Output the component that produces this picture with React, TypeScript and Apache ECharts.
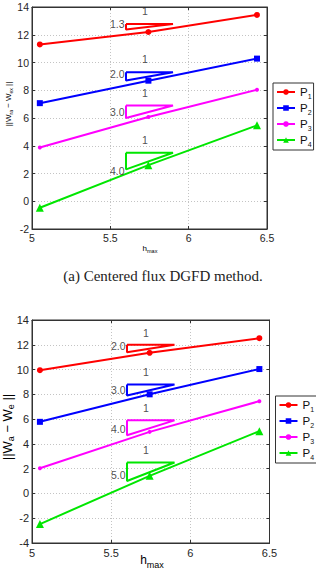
import React, { useEffect, useRef } from "react";
import * as echarts from "echarts";

// h_max sample points (shared by both panels)
const hMax = [5.05, 5.743, 6.436];

// Panel (a): centered flux DGFD errors
const centeredP1 = [11.3, 12.2, 13.43];
const centeredP2 = [7.07, 8.69, 10.28];
const centeredP3 = [3.88, 6.07, 8.04];
const centeredP4 = [-0.47, 2.6, 5.47];
const centeredSlopes = [1.3, 2.0, 3.0, 4.0];
const centeredTriTop = [12.77, 9.3, 6.9, 3.5];
const centeredSlopeLabelY = [12.75, 9.2, 6.45, 2.15];

// Panel (b): second method errors
const secondP1 = [9.95, 11.35, 12.53];
const secondP2 = [5.78, 8.0, 10.04];
const secondP3 = [2.03, 4.97, 7.45];
const secondP4 = [-2.47, 1.42, 5.03];
const secondSlopes = [2.0, 3.0, 4.0, 5.0];
const secondTriTop = [12.0, 8.8, 5.9, 2.5];
const secondSlopeLabelY = [11.9, 8.32, 5.2, 1.45];

// slope triangle horizontal extent
const triX = [5.6, 5.9];
const oneLabelX = 5.72;

const seriesNames = ["P1", "P2", "P3", "P4"];
const colors = ["#ff0000", "#0000ff", "#ff00ff", "#00e600"];
const symbols = ["circle", "rect", "circle", "triangle"];
const symbolSizes = [6, 6, 4, 8];

const xTicks = { min: 5, max: 6.5, interval: 0.5 };
const yRanges = [
  { min: -2, max: 14, interval: 2 },
  { min: -4, max: 14, interval: 2 },
];

const SANS = "Liberation Sans, Arial, Helvetica, sans-serif";

export default function App() {
  const ref = useRef<HTMLDivElement>(null);

  useEffect(() => {
    if (!ref.current) return;
    const chart = echarts.init(ref.current, undefined, { renderer: "svg" });

    const grids = [
      { left: 32, top: 7, width: 235, height: 222 },
      { left: 32, top: 320, width: 237.5, height: 223 },
    ];
    const labelSizes = [10.5, 11];

    const panels = [
      {
        values: [centeredP1, centeredP2, centeredP3, centeredP4],
        slopes: centeredSlopes,
        triTop: centeredTriTop,
        slopeY: centeredSlopeLabelY,
        oneOffset: 13,
      },
      {
        values: [secondP1, secondP2, secondP3, secondP4],
        slopes: secondSlopes,
        triTop: secondTriTop,
        slopeY: secondSlopeLabelY,
        oneOffset: 12,
      },
    ];

    const xAxis: any[] = [];
    const yAxis: any[] = [];
    grids.forEach((_, g) => {
      const fs = labelSizes[g];
      const tick = { show: true, inside: true, length: 3, lineStyle: { color: "#333" } };
      const line = { show: true, onZero: false, lineStyle: { color: "#333", width: 1 } };
      const dotted = { show: true, lineStyle: { color: "#c4c4c4", type: [1, 2] } };
      xAxis.push({
        type: "value",
        gridIndex: g,
        ...xTicks,
        axisLine: line,
        axisTick: tick,
        axisLabel: {
          color: "#262626",
          fontSize: fs,
          fontFamily: SANS,
          margin: g === 0 ? 3 : 4,
          showMinLabel: true,
          showMaxLabel: true,
          hideOverlap: false,
          formatter: (v: number) => String(v),
        },
        splitLine: dotted,
      });
      xAxis.push({
        type: "value",
        gridIndex: g,
        position: "top",
        ...xTicks,
        axisLine: line,
        axisTick: tick,
        axisLabel: { show: false },
        splitLine: { show: false },
      });
      yAxis.push({
        type: "value",
        gridIndex: g,
        ...yRanges[g],
        axisLine: line,
        axisTick: tick,
        axisLabel: {
          color: "#262626",
          fontSize: fs,
          fontFamily: SANS,
          margin: 3,
          showMinLabel: true,
          showMaxLabel: true,
          hideOverlap: false,
        },
        splitLine: dotted,
      });
      yAxis.push({
        type: "value",
        gridIndex: g,
        position: "right",
        ...yRanges[g],
        axisLine: line,
        axisTick: tick,
        axisLabel: { show: false },
        splitLine: { show: false },
      });
    });

    const series: any[] = [];
    panels.forEach((p, g) => {
      const axes = { xAxisIndex: 2 * g, yAxisIndex: 2 * g };
      p.values.forEach((vals, i) => {
        // slope triangle: right angle at top-left, drop = slope * run
        const top = p.triTop[i];
        const bottom = top - p.slopes[i] * (triX[1] - triX[0]);
        series.push({
          type: "line",
          name: `tri-${g}-${i}`,
          ...axes,
          data: [
            [triX[0], top],
            [triX[1], top],
            [triX[0], bottom],
            [triX[0], top],
          ],
          symbol: "none",
          lineStyle: { color: colors[i], width: 2 },
          z: 2,
          silent: true,
        });
        series.push({
          type: "line",
          name: seriesNames[i],
          ...axes,
          data: hMax.map((x, k) => [x, vals[k]]),
          symbol: symbols[i],
          symbolSize: symbolSizes[i],
          itemStyle: { color: colors[i] },
          lineStyle: { color: colors[i], width: 2 },
          z: 3,
        });
      });
      // "1" run labels and slope labels
      series.push({
        type: "scatter",
        name: `run-${g}`,
        ...axes,
        symbolSize: 1,
        itemStyle: { color: "transparent" },
        data: p.triTop.map((t) => ({ value: [oneLabelX, t], name: "1" })),
        label: {
          show: true,
          position: "inside",
          offset: [0, -p.oneOffset],
          formatter: "{b}",
          color: "#222",
          fontSize: 10.5,
          fontFamily: SANS,
        },
        z: 4,
        silent: true,
      });
      series.push({
        type: "scatter",
        name: `slope-${g}`,
        ...axes,
        symbolSize: 1,
        itemStyle: { color: "transparent" },
        data: p.slopeY.map((y, i) => ({ value: [triX[0], y], name: p.slopes[i].toFixed(1) })),
        label: {
          show: true,
          position: "left",
          distance: 1,
          formatter: "{b}",
          color: "#222",
          fontSize: 10.5,
          fontFamily: SANS,
        },
        z: 4,
        silent: true,
      });
    });

    const legendBase = (left: number, top: number, padRight: number) => ({
      orient: "vertical",
      left,
      top,
      data: seriesNames,
      backgroundColor: "#fff",
      borderColor: "#333",
      borderWidth: 1,
      borderRadius: 0,
      padding: [1, padRight, 2, 3],
      itemGap: 0,
      itemWidth: 18,
      itemHeight: 7,
      selectedMode: false,
      formatter: (name: string) => `{p|P}{s|${name.slice(1)}}`,
      textStyle: {
        fontFamily: SANS,
        color: "#111",
        rich: {
          p: { fontSize: 11.5, lineHeight: 12, fontFamily: SANS, color: "#111" },
          s: { fontSize: 7, lineHeight: 7, padding: [9, 0, 0, 0], fontFamily: SANS, color: "#111" },
        },
      },
    });

    const sub = (main: number, small: number, drop: number) => ({
      m: { fontSize: main, lineHeight: main, fontFamily: SANS, color: "#222" },
      s: { fontSize: small, lineHeight: small, padding: [drop, 0, 0, 0], fontFamily: SANS, color: "#222" },
    });

    chart.setOption({
      animation: false,
      backgroundColor: "#fff",
      grid: grids.map((g) => ({
        ...g,
        show: true,
        borderColor: "#333",
        borderWidth: 1,
        backgroundColor: "#fff",
        containLabel: false,
      })),
      xAxis,
      yAxis,
      legend: [legendBase(273, 83, 2), legendBase(275.5, 396, 6)],
      series,
      graphic: [
        {
          type: "text",
          x: 163,
          y: 276,
          style: {
            text: "(a) Centered flux DGFD method.",
            font: "15px 'Liberation Serif', 'Times New Roman', serif",
            fill: "#222",
            align: "center",
            verticalAlign: "middle",
            textAlign: "center",
            textVerticalAlign: "middle",
          },
        },
        {
          type: "text",
          x: 150,
          y: 248,
          style: {
            text: "{m|h}{s|max}",
            rich: sub(8, 5.5, 6),
            align: "center",
            verticalAlign: "middle",
            textAlign: "center",
            textVerticalAlign: "middle",
          },
        },
        {
          type: "text",
          x: 152,
          y: 560,
          style: {
            text: "{m|h}{s|max}",
            rich: sub(12, 9, 9),
            align: "center",
            verticalAlign: "middle",
            textAlign: "center",
            textVerticalAlign: "middle",
          },
        },
        {
          type: "text",
          x: 8,
          y: 104,
          rotation: Math.PI / 2,
          style: {
            text: "{m|||W}{s|ra}{m| − W}{s|ex}{m| ||}",
            rich: sub(8, 5, 5),
            align: "center",
            verticalAlign: "middle",
            textAlign: "center",
            textVerticalAlign: "middle",
          },
        },
        {
          type: "text",
          x: 7,
          y: 427,
          rotation: Math.PI / 2,
          style: {
            text: "{m|||W}{s|a}{m| − W}{s|e}{m| ||}",
            rich: sub(13, 9, 8),
            align: "center",
            verticalAlign: "middle",
            textAlign: "center",
            textVerticalAlign: "middle",
          },
        },
      ],
    });

    return () => chart.dispose();
  }, []);

  return (
    <div
      ref={ref}
      style={{ position: "absolute", left: 0, top: 0, width: 316, height: 580, background: "#fff" }}
    />
  );
}
